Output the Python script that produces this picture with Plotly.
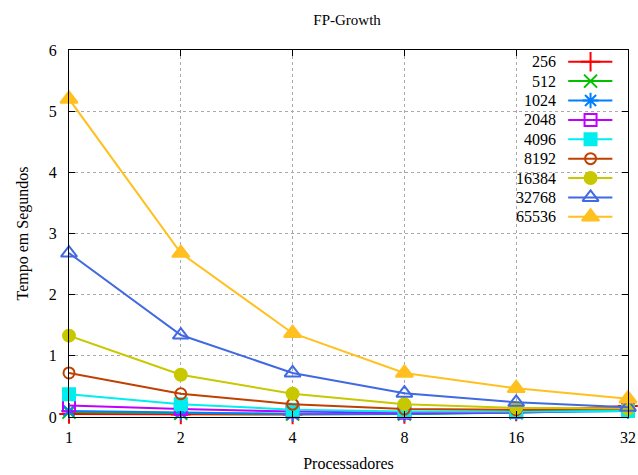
import plotly.graph_objects as go

# Processor counts and run times (seconds) per dataset size
processors = [1, 2, 4, 8, 16, 32]
sizes = ["256", "512", "1024", "2048", "4096", "8192", "16384", "32768", "65536"]

t_256 = [0.05, 0.04, 0.04, 0.05, 0.09, 0.18]
t_512 = [0.08, 0.06, 0.05, 0.05, 0.07, 0.12]
t_1024 = [0.10, 0.07, 0.05, 0.05, 0.07, 0.10]
t_2048 = [0.19, 0.13, 0.09, 0.07, 0.08, 0.12]
t_4096 = [0.37, 0.21, 0.12, 0.09, 0.09, 0.10]
t_8192 = [0.72, 0.38, 0.21, 0.13, 0.12, 0.14]
t_16384 = [1.33, 0.69, 0.38, 0.21, 0.15, 0.14]
t_32768 = [2.68, 1.34, 0.72, 0.39, 0.24, 0.16]
t_65536 = [5.20, 2.68, 1.37, 0.72, 0.47, 0.30]

series = [t_256, t_512, t_1024, t_2048, t_4096, t_8192, t_16384, t_32768, t_65536]

colors = ["#ff0000", "#00c000", "#0080ff", "#c000ff", "#00eeee",
          "#c04000", "#c8c800", "#4169e1", "#ffc020"]
symbols = ["cross-thin", "x-thin", "asterisk", "square-open", "square",
           "circle-open", "circle", "triangle-up-open", "triangle-up"]
msizes = [14, 13, 13, 12, 12, 11, 12, 14, 15]

x_ticks = [1, 2, 4, 8, 16, 32]
y_ticks = [0, 1, 2, 3, 4, 5, 6]

SERIF = "Liberation Serif"

fig = go.Figure()

for name, vals, col, sym, ms in zip(sizes, series, colors, symbols, msizes):
    fig.add_trace(go.Scatter(
        x=processors, y=vals, mode="lines+markers", name=name,
        line=dict(color=col, width=2),
        marker=dict(symbol=sym, size=ms, color=col,
                    line=dict(color=col, width=2)),
        showlegend=False, cliponaxis=False,
    ))

# Key drawn inside the plot: label on the left, line sample on the right
row0, step = 0.968, 0.0528
for i, (name, col, sym, ms) in enumerate(zip(sizes, colors, symbols, msizes)):
    yk = row0 - i * step
    fig.add_trace(go.Scatter(
        x=[0.893, 0.972], y=[yk, yk], xaxis="x2", yaxis="y2",
        mode="lines", line=dict(color=col, width=2),
        showlegend=False, hoverinfo="skip",
    ))
    fig.add_trace(go.Scatter(
        x=[0.933], y=[yk], xaxis="x2", yaxis="y2", mode="markers",
        marker=dict(symbol=sym, size=ms, color=col,
                    line=dict(color=col, width=2)),
        showlegend=False, hoverinfo="skip",
    ))
    fig.add_annotation(
        x=0.875, y=yk, xref="x2", yref="y2", text=name, showarrow=False,
        xanchor="right", yanchor="middle",
        font=dict(family=SERIF, size=16, color="#000000"),
    )

fig.update_layout(
    width=638, height=475,
    margin=dict(l=69, r=10, t=50, b=58),
    paper_bgcolor="white", plot_bgcolor="white",
    title=dict(text="FP-Growth", x=0.544, xanchor="center", xref="container",
               y=0.958, yanchor="middle",
               font=dict(family=SERIF, size=15, color="#000000")),
    font=dict(family=SERIF, size=16, color="#000000"),
    xaxis=dict(
        type="log", range=[0, 1.50515], tickvals=x_ticks,
        ticktext=[str(v) for v in x_ticks],
        showline=True, linecolor="#000000", linewidth=1, mirror="ticks",
        ticks="inside", ticklen=6, tickcolor="#000000",
        showgrid=True, gridcolor="#aaaaaa", griddash="dot", gridwidth=1,
        zeroline=False, ticklabelstandoff=6, automargin=False,
        title=dict(text="Processadores", standoff=12,
                   font=dict(family=SERIF, size=16)),
        tickfont=dict(family=SERIF, size=16),
    ),
    yaxis=dict(
        range=[0, 6], tickvals=y_ticks,
        showline=True, linecolor="#000000", linewidth=1, mirror="ticks",
        ticks="inside", ticklen=6, tickcolor="#000000",
        showgrid=True, gridcolor="#aaaaaa", griddash="dot", gridwidth=1,
        zeroline=False, ticklabelstandoff=8, automargin=False,
        title=dict(text="Tempo em Segundos", standoff=16,
                   font=dict(family=SERIF, size=16)),
        tickfont=dict(family=SERIF, size=16),
    ),
    xaxis2=dict(overlaying="x", range=[0, 1], visible=False, fixedrange=True),
    yaxis2=dict(overlaying="y", range=[0, 1], visible=False, fixedrange=True),
)

fig.write_html("out.html")
